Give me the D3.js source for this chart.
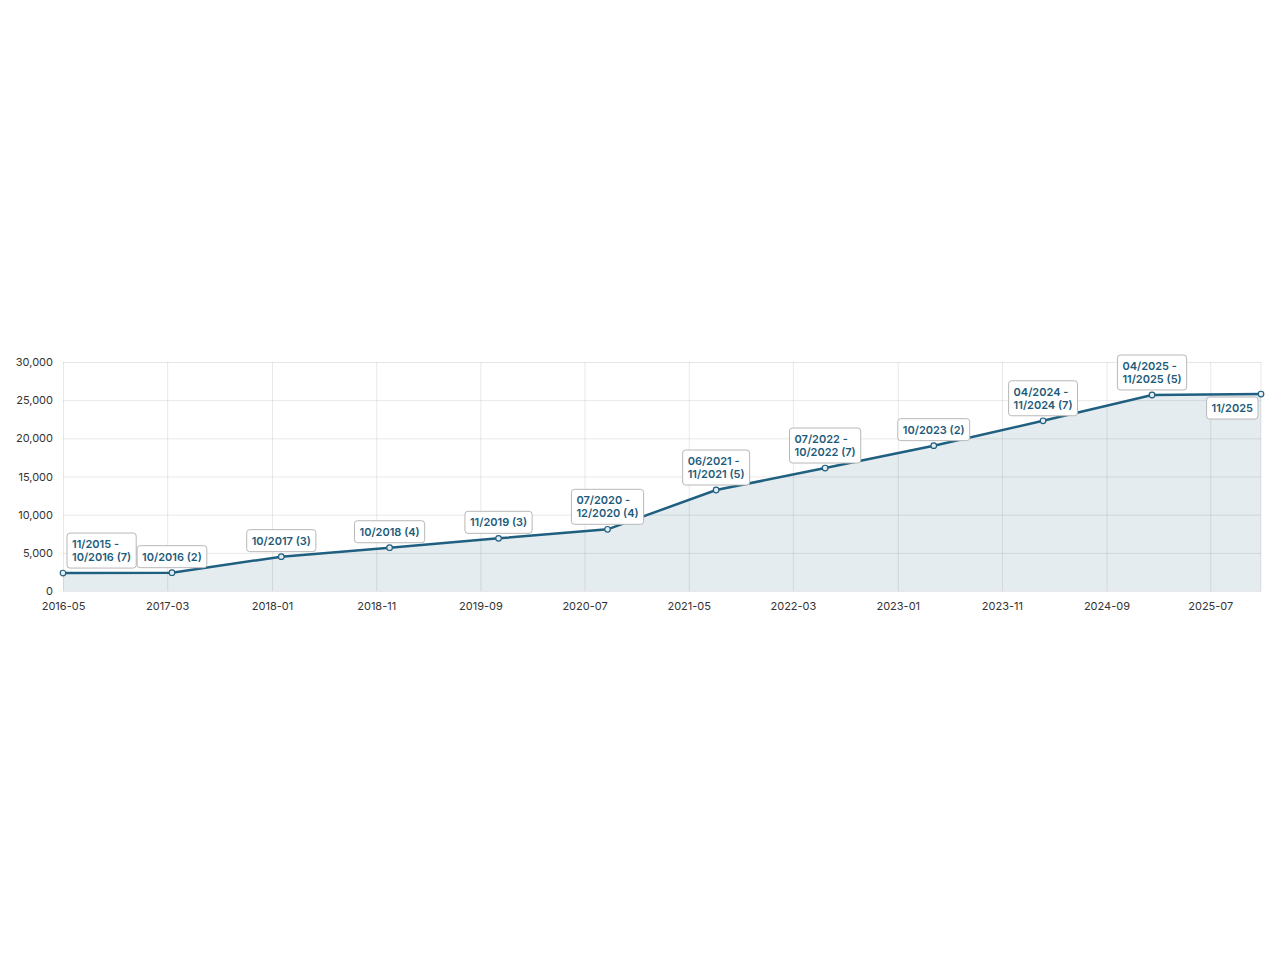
<!DOCTYPE html>
<html>
<head>
<meta charset="utf-8">
<script src="https://cdn.jsdelivr.net/npm/d3@7"></script>
<style>
  body { margin: 0; background: #fff; }
  .axis text { font-family: Inter, "Liberation Sans", sans-serif; font-size: 11px; fill: #333; }
  .axis path, .axis line { display: none; }
  .grid line { stroke: rgba(0, 0, 0, 0.09); stroke-width: 1; }
  .grid path { display: none; }
  .lbl text { font-family: Inter, "Liberation Sans", sans-serif; font-size: 11px; font-weight: 600; fill: #1d5b7a; }
</style>
</head>
<body>
<svg id="chart"></svg>
<script>
// values
const dates = ['2016-05-01', '2017-03-15', '2018-01-28', '2018-12-10', '2019-10-24', '2020-09-06',
  '2021-07-20', '2022-06-03', '2023-04-16', '2024-02-29', '2025-01-12', '2025-11-26'];
const values = [2350, 2400, 4500, 5670, 6900, 8080, 13230, 16110, 19040, 22300, 25680, 25800];
const labels = ['11/2015 - 10/2016 (7)', '10/2016 (2)', '10/2017 (3)', '10/2018 (4)', '11/2019 (3)',
  '07/2020 - 12/2020 (4)', '06/2021 - 11/2021 (5)', '07/2022 - 10/2022 (7)', '10/2023 (2)',
  '04/2024 - 11/2024 (7)', '04/2025 - 11/2025 (5)', '11/2025'];
const xTicks = ['2016-05', '2017-03', '2018-01', '2018-11', '2019-09', '2020-07', '2021-05',
  '2022-03', '2023-01', '2023-11', '2024-09', '2025-07'];
const yTicks = [0, 5000, 10000, 15000, 20000, 25000, 30000];

const W = 1280, H = 960;
const margin = { top: 362, right: 19, bottom: 369, left: 63 };
const w = W - margin.left - margin.right;
const h = H - margin.top - margin.bottom;

const parseDay = d3.timeParse('%Y-%m-%d');
const parseMonth = d3.timeParse('%Y-%m');
const data = dates.map((d, i) => ({ date: parseDay(d), value: values[i], label: labels[i] }));

const x = d3.scaleTime()
  .domain(d3.extent(data, d => d.date))
  .range([0, w]);
const y = d3.scaleLinear()
  .domain([0, 30000])
  .range([h, 0]);

const svg = d3.select('#chart')
  .attr('width', W)
  .attr('height', H)
  .append('g')
  .attr('transform', 'translate(' + margin.left + ',' + margin.top + ')');

// area first, grid drawn over it
svg.append('path')
  .datum(data)
  .attr('fill', '#e5ecf0')
  .attr('d', d3.area().x(d => x(d.date)).y0(h).y1(d => y(d.value)));

svg.append('g')
  .attr('class', 'grid')
  .call(d3.axisLeft(y).tickValues(yTicks).tickSize(-w).tickFormat(''));
svg.append('g')
  .attr('class', 'grid')
  .attr('transform', 'translate(0,' + h + ')')
  .call(d3.axisBottom(x).tickValues(xTicks.map(parseMonth)).tickSize(-h).tickFormat(''));
svg.append('line')
  .attr('x1', w).attr('x2', w).attr('y1', 0).attr('y2', h)
  .attr('stroke', 'rgba(0,0,0,0.09)');

svg.append('path')
  .datum(data)
  .attr('fill', 'none')
  .attr('stroke', '#1f5f80')
  .attr('stroke-width', 2.5)
  .attr('d', d3.line().x(d => x(d.date)).y(d => y(d.value)));

svg.selectAll('circle')
  .data(data)
  .enter()
  .append('circle')
  .attr('cx', d => x(d.date))
  .attr('cy', d => y(d.value))
  .attr('r', 2.8)
  .attr('fill', '#e5ecf0')
  .attr('stroke', '#1f5f80')
  .attr('stroke-width', 1.2);

// axes
svg.append('g')
  .attr('class', 'axis')
  .call(d3.axisLeft(y).tickValues(yTicks).tickSize(0).tickPadding(10).tickFormat(d3.format(',')));
svg.append('g')
  .attr('class', 'axis')
  .attr('transform', 'translate(0,' + h + ')')
  .call(d3.axisBottom(x).tickValues(xTicks.map(parseMonth)).tickSize(0).tickPadding(11)
    .tickFormat(d3.timeFormat('%Y-%m')));

// labels
data.forEach(function (d) {
  const lines = d.label.split(/(?<=-) /);
  const g = svg.append('g').attr('class', 'lbl');
  const rect = g.append('rect');
  const txt = g.append('text');
  lines.forEach(function (l, i) {
    txt.append('tspan').attr('x', 0).attr('dy', i === 0 ? 0 : 13).text(l);
  });
  const bb = txt.node().getBBox();
  const bw = bb.width + 10;
  const bh = lines.length * 13 + 9;
  const px = x(d.date), py = y(d.value);
  const maxX = w - 3 - bw;
  const bx = Math.max(4, Math.min(maxX, px - bw / 2));
  // boxes pushed against the right edge go under their point
  const by = (px - bw / 2 > maxX) ? py + 3 : py - 5 - bh;
  rect.attr('x', bx).attr('y', by).attr('width', bw).attr('height', bh)
    .attr('rx', 3).attr('fill', '#fff').attr('stroke', '#b8b8b8').attr('stroke-width', 1);
  txt.attr('transform', 'translate(' + (bx + 5) + ',' + (by + 15) + ')');
});
</script>
</body>
</html>
